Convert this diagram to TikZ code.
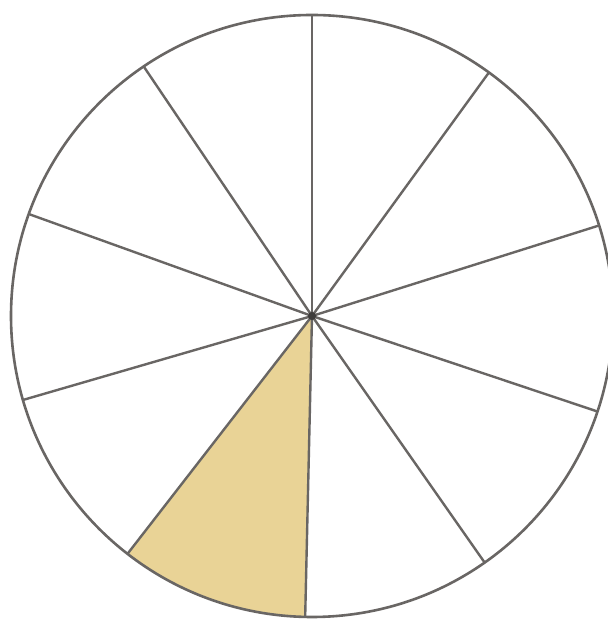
\documentclass[tikz,border=0pt]{standalone}
\usetikzlibrary{calc}
\definecolor{spokegray}{RGB}{105,102,100}
\definecolor{sectorfill}{RGB}{233,211,150}
\tikzset{
  spoke/.style={draw=spokegray,line width=2.4pt},
  rim/.style={draw=spokegray,line width=2.6pt},
}
\begin{document}
\begin{tikzpicture}[x=1pt,y=1pt]
\useasboundingbox (0,0) rectangle (607,628);
\fill[white] (0,0) rectangle (607,628);
\coordinate (c) at (312,312);
\def\R{301}
\fill[sectorfill] (c) -- ++(-127.8:\R) arc[start angle=-127.8,end angle=-91.3,radius=\R] -- cycle;
\foreach \a [count=\i] in {90,54,17.5,-18.5,-55,-91.3,-127.8,-163.8,160.2,124}{
  \coordinate (p\i) at ($(c)+(\a:\R)$);
}
\foreach \i in {1,...,10}{
  \draw[spoke] (c) -- (p\i);
}
\draw[rim] (c) circle[radius=\R];
\fill[spokegray!60!black] (c) circle[radius=4];
\end{tikzpicture}
\end{document}
